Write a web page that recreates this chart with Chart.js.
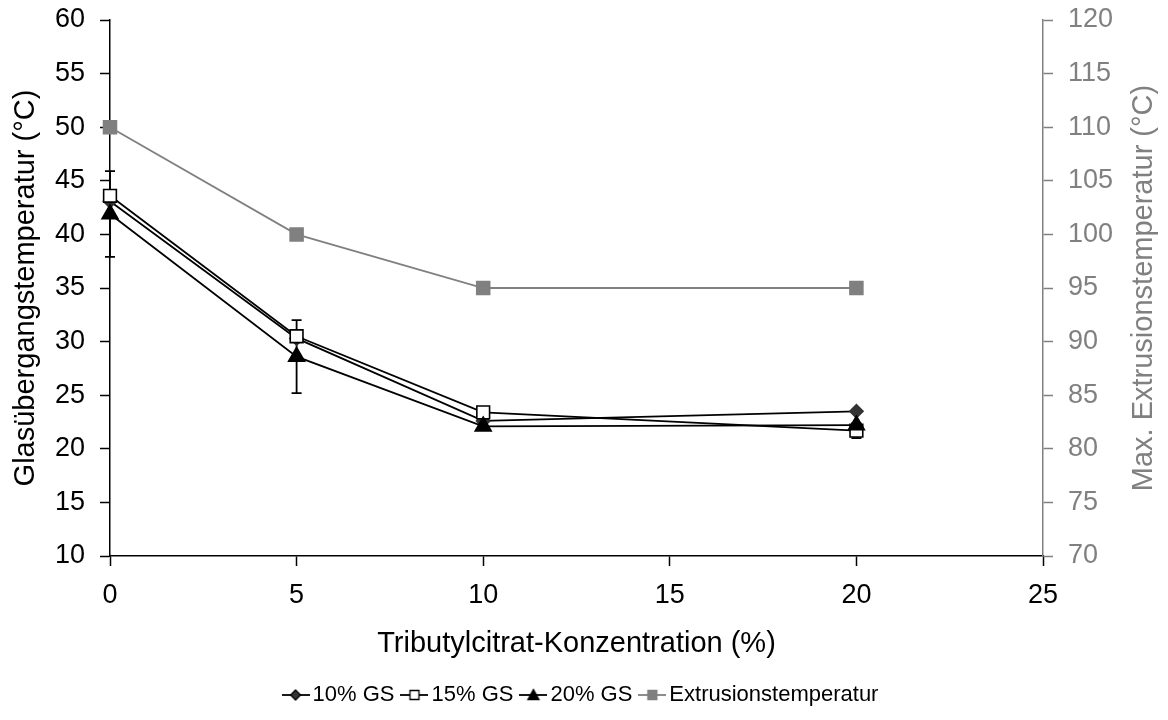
<!DOCTYPE html>
<html>
<head>
<meta charset="utf-8">
<script src="https://cdn.jsdelivr.net/npm/chart.js@4.4.0/dist/chart.umd.min.js"></script>
<style>
  html, body { margin: 0; padding: 0; background: #fff; }
  #wrap { width: 1168px; height: 720px; }
</style>
</head>
<body>
<div id="wrap"><canvas id="tgChart" width="1168" height="720"></canvas></div>
<script>
// Tributylcitrat-Konzentration (%)
const conc = [0, 5, 10, 20];
// Glasübergangstemperatur (°C) je GS-Anteil
const gs10 = [43.1, 30.3, 22.6, 23.5];
const gs15 = [43.6, 30.5, 23.4, 21.7];
const gs20 = [41.9, 28.6, 22.1, 22.2];
// Standardabweichungen (Fehlerbalken)
const gs15Err = [0, 0, 0, 0.7];
const gs20Err = [4.0, 3.4, 0, 0];
// max. Extrusionstemperatur (°C), rechte Achse
const extrusion = [110, 100, 95, 95];

const xTicks = [0, 5, 10, 15, 20, 25];
const rightTitle = 'Max. Extrusionstemperatur (°C)';
const GRAY = '#808080';
const FONT = "'Liberation Sans', Arial, sans-serif";
const NARROW = "'Liberation Sans Narrow', 'Arial Narrow', 'Liberation Sans', sans-serif";

const pts = vals => vals.map((v, i) => ({ x: conc[i], y: v }));

// Legendenschrift: schmale Variante, sonst kleinere normale Schrift
function legendFont() {
  const g = document.createElement('canvas').getContext('2d');
  g.font = "27px 'Liberation Sans Narrow'";
  const narrowW = g.measureText('Extrusionstemperatur').width;
  g.font = "27px 'Liberation Sans'";
  const normalW = g.measureText('Extrusionstemperatur').width;
  return narrowW < normalW * 0.9 ? { family: NARROW, size: 27 } : { family: FONT, size: 22 };
}

// kleine Legendensymbole: Linie mit Marker in der Mitte
function legendIcon(color, style, fill) {
  const c = document.createElement('canvas');
  c.width = 28; c.height = 16;
  const g = c.getContext('2d');
  g.strokeStyle = color; g.lineWidth = 1.8;
  g.beginPath(); g.moveTo(0, 8); g.lineTo(28, 8); g.stroke();
  g.fillStyle = fill; g.lineWidth = 1.3;
  g.beginPath();
  if (style === 'diamond') { g.moveTo(14, 3); g.lineTo(19, 8); g.lineTo(14, 13); g.lineTo(9, 8); g.closePath(); }
  else if (style === 'square') { g.rect(9.5, 3.5, 9, 9); }
  else if (style === 'triangle') { g.moveTo(14, 2.5); g.lineTo(19.5, 12.5); g.lineTo(8.5, 12.5); g.closePath(); }
  g.fill(); g.stroke();
  return c;
}

const icons = [
  legendIcon('#000', 'diamond', '#333'),
  legendIcon('#000', 'square', '#fff'),
  legendIcon('#000', 'triangle', '#000'),
  legendIcon(GRAY, 'square', GRAY)
];

// Fehlerbalken mit Querstrichen, unter den Markern gezeichnet
const errorBars = {
  id: 'errorBars',
  beforeDatasetsDraw(chart) {
    const { ctx, scales: { x, y } } = chart;
    const sets = [[gs15, gs15Err], [gs20, gs20Err]];
    ctx.save();
    ctx.strokeStyle = '#000';
    ctx.lineWidth = 1.8;
    sets.forEach(([vals, errs]) => {
      vals.forEach((v, i) => {
        if (!errs[i]) return;
        const px = x.getPixelForValue(conc[i]);
        const top = y.getPixelForValue(v + errs[i]);
        const bot = y.getPixelForValue(v - errs[i]);
        ctx.beginPath();
        ctx.moveTo(px, top); ctx.lineTo(px, bot);
        ctx.moveTo(px - 5, top); ctx.lineTo(px + 5, top);
        ctx.moveTo(px - 5, bot); ctx.lineTo(px + 5, bot);
        ctx.stroke();
      });
    });
    ctx.restore();
  }
};

// Titel der rechten Achse, von unten nach oben gelesen
const rightAxisTitle = {
  id: 'rightAxisTitle',
  afterDraw(chart) {
    const { ctx, chartArea } = chart;
    const s = chart.scales.y2;
    ctx.save();
    ctx.translate(s.right - 16, (chartArea.top + chartArea.bottom) / 2);
    ctx.rotate(-Math.PI / 2);
    ctx.font = `29px ${FONT}`;
    ctx.fillStyle = GRAY;
    ctx.textAlign = 'center';
    ctx.textBaseline = 'alphabetic';
    ctx.fillText(rightTitle, 0, 0);
    ctx.restore();
  }
};

// feste Breite der y-Achsen, ohne zusätzlichen Rand oben/unten
const fixWidth = w => s => { s.width = w; s.paddingTop = 0; s.paddingBottom = 0; };

const lf = legendFont();

const ctx = document.getElementById('tgChart').getContext('2d');
new Chart(ctx, {
  type: 'scatter',
  data: {
    datasets: [
      { label: '10% GS', data: pts(gs10), yAxisID: 'y', showLine: true, order: 4,
        borderColor: '#000', borderWidth: 1.8, pointStyle: 'rectRot', pointRadius: 6.5,
        pointBackgroundColor: '#333', pointBorderColor: '#333', clip: 12 },
      { label: '15% GS', data: pts(gs15), yAxisID: 'y', showLine: true, order: 3,
        borderColor: '#000', borderWidth: 1.8, pointStyle: 'rect', pointRadius: 9,
        pointBackgroundColor: '#fff', pointBorderColor: '#000', pointBorderWidth: 1.6, clip: 12 },
      { label: '20% GS', data: pts(gs20), yAxisID: 'y', showLine: true, order: 2,
        borderColor: '#000', borderWidth: 1.8, pointStyle: 'triangle', pointRadius: 9,
        pointBackgroundColor: '#000', pointBorderColor: '#000', clip: 12 },
      { label: 'Extrusionstemperatur', data: pts(extrusion), yAxisID: 'y2', showLine: true, order: 1,
        borderColor: GRAY, borderWidth: 1.8, pointStyle: 'rect', pointRadius: 9,
        pointBackgroundColor: GRAY, pointBorderColor: GRAY, clip: 12 }
    ]
  },
  options: {
    responsive: false,
    animation: false,
    layout: { padding: { top: 20, bottom: 4, left: 0, right: 0 } },
    plugins: {
      tooltip: { enabled: false },
      legend: {
        position: 'bottom',
        labels: {
          usePointStyle: true,
          pointStyleWidth: 12,
          padding: 14,
          color: '#000',
          font: lf,
          generateLabels: chart => chart.data.datasets.map((ds, i) => ({
            text: ds.label, pointStyle: icons[i], fontColor: '#000',
            hidden: false, datasetIndex: i, lineWidth: 0
          }))
        }
      }
    },
    scales: {
      x: {
        type: 'linear', min: 0, max: 25,
        afterBuildTicks: s => { s.ticks = xTicks.map(v => ({ value: v })); },
        afterFit: s => { s.height = 114; },
        border: { color: '#000', width: 1.5 },
        grid: { drawOnChartArea: false, tickLength: 10, tickColor: '#000', tickWidth: 1.5 },
        ticks: { color: '#000', padding: 13, font: { family: FONT, size: 27 } },
        title: { display: true, text: 'Tributylcitrat-Konzentration (%)', color: '#000',
          font: { family: FONT, size: 29 }, padding: { top: 10, bottom: 9 } }
      },
      y: {
        position: 'left', min: 10, max: 60,
        afterFit: fixWidth(110),
        border: { color: '#000', width: 1.5 },
        grid: { drawOnChartArea: false, tickLength: 10, tickColor: '#000', tickWidth: 1.5 },
        ticks: { stepSize: 5, color: '#000', padding: 15, font: { family: FONT, size: 27 } },
        title: { display: true, text: 'Glasübergangstemperatur (°C)', color: '#000',
          font: { family: FONT, size: 29 }, padding: { top: 9, bottom: 0 } }
      },
      y2: {
        position: 'right', min: 70, max: 120,
        afterFit: fixWidth(125),
        border: { color: GRAY, width: 1.5 },
        grid: { drawOnChartArea: false, tickLength: 10, tickColor: GRAY, tickWidth: 1.5 },
        ticks: { stepSize: 5, color: GRAY, padding: 15, font: { family: FONT, size: 27 } }
      }
    }
  },
  plugins: [errorBars, rightAxisTitle]
});
</script>
</body>
</html>
